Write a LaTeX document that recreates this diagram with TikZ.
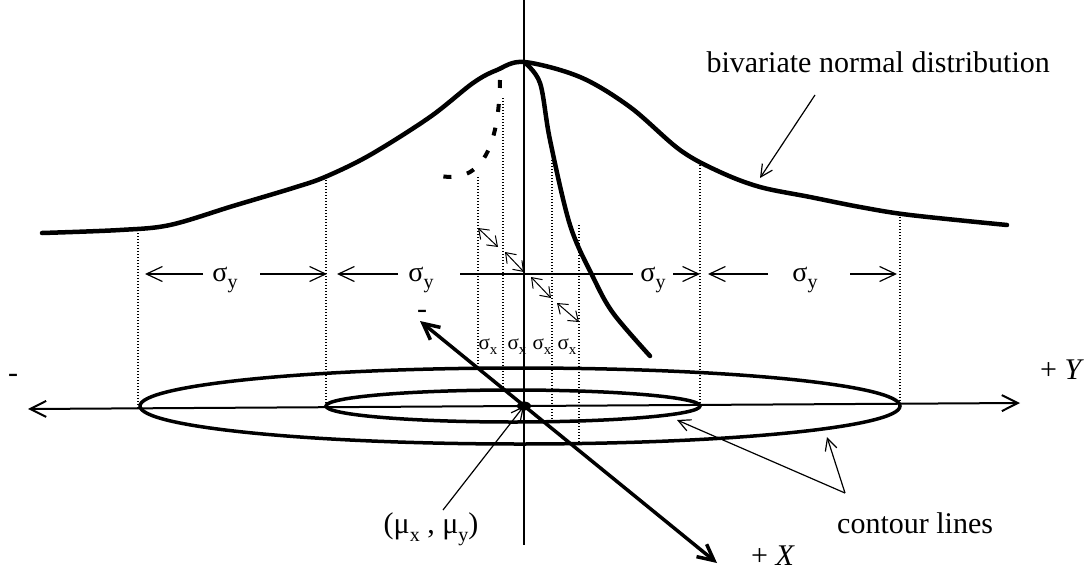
\documentclass[tikz,border=0pt]{standalone}
\usepackage{fontspec}
\setmainfont{Liberation Serif}
\usetikzlibrary{arrows.meta}
\newcommand{\sgsub}[2]{σ\raisebox{-0.28em}{\fontsize{#2}{#2}\selectfont #1}}
\newcommand{\musub}[1]{μ\raisebox{-0.25em}{\fontsize{20}{20}\selectfont #1}}
\tikzset{
  bell/.style={line width=4.5pt, line cap=round, line join=round},
  ell/.style={line width=3.5pt},
  dotv/.style={line width=1.1pt, dash pattern=on 1.1pt off 1.9pt},
  thinl/.style={line width=1.2pt},
  bigbarb/.style={{Straight Barb[length=16pt,width=16pt]}-{Straight Barb[length=16pt,width=16pt]}},
  rbarb/.style={-{Straight Barb[length=16pt,width=15pt]}},
  sbarb/.style={{Straight Barb[length=9pt,width=13pt]}-{Straight Barb[length=9pt,width=13pt]}},
  pbarb/.style={-{Straight Barb[length=12pt,width=12pt]}},
  lbl/.style={inner sep=0pt, font=\fontsize{30}{36}\selectfont},
  sylbl/.style={inner sep=0pt, anchor=base, font=\fontsize{28}{32}\selectfont},
  sxlbl/.style={inner sep=0pt, anchor=base, font=\fontsize{21}{24}\selectfont},
}
\begin{document}
\begin{tikzpicture}[x=1pt,y=-1pt]
\useasboundingbox (0,0) rectangle (1085,573);
% key points
\coordinate (O) at (524,406);
\coordinate (yl) at (28,409);
\coordinate (yr) at (1020,403);
\coordinate (xt) at (420,321);
\coordinate (xb) at (717,563);
\coordinate (ctop) at (524,0);
\coordinate (cbot) at (524,545);

% vertical center line
\draw[thinl] (ctop) -- (cbot);

% dotted verticals
\foreach \x/\a/\b in {138/230/409, 326/177/406, 478/177/366, 503/98/388, 552/160/421, 579/225/443, 700/165/404, 900/214/403}
  \draw[dotv] (\x,\a) -- (\x,\b);

% bell curve
\draw[bell] plot[smooth, tension=0.55] coordinates {(42,233) (120,230) (170,225) (233,206) (293,188) (325,177) (370,155) (430,117) (473,83) (497,70) (524,62) (580,77) (630,107) (680,150) (720,172) (760,187) (810,197) (860,207) (910,215) (1007,225)};

% dashed partial curve
\draw[line width=4pt, dash pattern=on 8pt off 16pt] (500,80) .. controls (499,150) and (480,186) .. (436,175);

% steep right curve
\draw[bell] plot[smooth, tension=0.55] coordinates {(524,62) (540,83) (550,140) (570,225) (593,277) (613,313) (650,356)};

% ellipses
\draw[ell] (520,406) ellipse (380 and 38);
\draw[ell] (513,406) ellipse (187 and 16);

% Y axis
\draw[line width=2pt, bigbarb] (yl) -- (yr);
% X axis
\draw[line width=3.5pt, bigbarb] (xt) -- (xb);
\fill (O) ellipse (7 and 4.5);

% sigma_y arrows
\coordinate (s1a) at (203,274); \coordinate (s1t) at (145,274);
\coordinate (s2a) at (260,274); \coordinate (s2t) at (327,274);
\coordinate (s3a) at (398,274); \coordinate (s3t) at (337,274);
\coordinate (s4a) at (460,274); \coordinate (s4b) at (633,274);
\coordinate (s5a) at (673,274); \coordinate (s5t) at (700,274);
\coordinate (s6a) at (768,274); \coordinate (s6t) at (708,274);
\coordinate (s7a) at (850,274); \coordinate (s7t) at (897,274);
\draw[thinl, rbarb] (s1a) -- (s1t);
\draw[thinl, rbarb] (s2a) -- (s2t);
\draw[thinl, rbarb] (s3a) -- (s3t);
\draw[thinl] (s4a) -- (s4b);
\draw[thinl, rbarb] (s5a) -- (s5t);
\draw[thinl, rbarb] (s6a) -- (s6t);
\draw[thinl, rbarb] (s7a) -- (s7t);

\node[sylbl] (sy1) at (225,281) {\sgsub{y}{20}};
\node[sylbl] (sy2) at (421,281) {\sgsub{y}{20}};
\node[sylbl] (sy3) at (653,281) {\sgsub{y}{20}};
\node[sylbl] (sy4) at (805,281) {\sgsub{y}{20}};

% sigma_x arrows
\coordinate (a1) at (478,228); \coordinate (b1) at (498,247);
\coordinate (a2) at (505,252); \coordinate (b2) at (524,272);
\coordinate (a3) at (531,277); \coordinate (b3) at (551,298);
\coordinate (a4) at (557,303); \coordinate (b4) at (579,322);
\draw[line width=1pt, sbarb] (a1) -- (b1);
\draw[line width=1pt, sbarb] (a2) -- (b2);
\draw[line width=1pt, sbarb] (a3) -- (b3);
\draw[line width=1pt, sbarb] (a4) -- (b4);

\node[sxlbl] (sx1) at (488,349) {\sgsub{x}{15}};
\node[sxlbl] (sx2) at (517,349) {\sgsub{x}{15}};
\node[sxlbl] (sx3) at (542,349) {\sgsub{x}{15}};
\node[sxlbl] (sx4) at (567,349) {\sgsub{x}{15}};

% axis labels
\node[lbl] (minusY) at (13,378) {-};
\node[lbl] (minusX) at (422,314) {-};
\node[lbl] (plusY) at (1062,370) {+ \textit{Y}};
\node[lbl] (plusX) at (773,556) {+ \textit{X}};

% mean label
\node[inner sep=0pt, font=\fontsize{30}{34}\selectfont] (mu) at (431,529) {(\musub{x} , \musub{y})};
\coordinate (muS) at (443,510);
\draw[thinl, pbarb] (muS) -- (O);

% bivariate label
\node[lbl, anchor=base east] (biv) at (1050,72) {bivariate normal distribution};
\coordinate (bivS) at (815,95);
\coordinate (bivT) at (760,178);
\draw[thinl, pbarb] (bivS) -- (bivT);

% contour label
\node[lbl, anchor=base west] (cont) at (837,533) {contour lines};
\coordinate (cS) at (845,493);
\coordinate (cT1) at (677,420);
\coordinate (cT2) at (827,437);
\draw[thinl, pbarb] (cS) -- (cT1);
\draw[thinl, pbarb] (cS) -- (cT2);
\end{tikzpicture}
\end{document}
